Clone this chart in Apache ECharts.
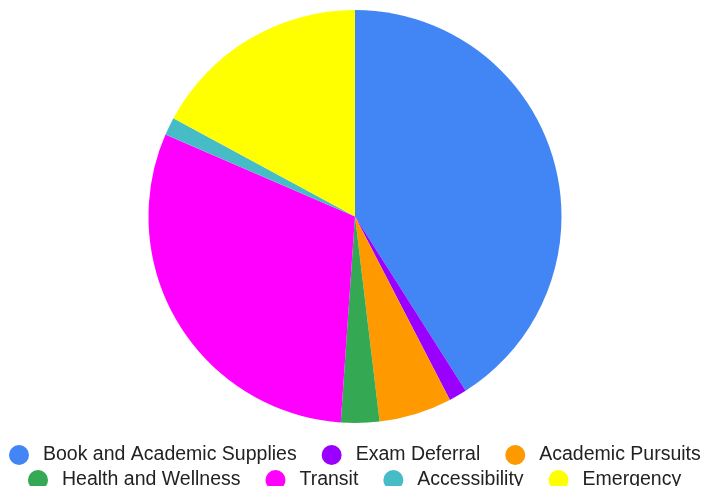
<!DOCTYPE html>
<html>
<head>
<meta charset="utf-8">
<script src="https://cdn.jsdelivr.net/npm/echarts@6/dist/echarts.min.js"></script>
<style>
  html, body { margin: 0; padding: 0; background: #fff; }
  #chart { width: 702px; height: 486px; }
</style>
</head>
<body>
<div id="chart"></div>
<script>
// Slice data (share of total)
const categories = [
  'Book and Academic Supplies',
  'Exam Deferral',
  'Academic Pursuits',
  'Health and Wellness',
  'Transit',
  'Accessibility',
  'Emergency'
];
const values = [41.0, 1.4, 5.7, 3.0, 30.4, 1.4, 17.1];
const colors = ['#4285f4', '#9900ff', '#ff9900', '#34a853', '#ff00ff', '#46bdc6', '#ffff00'];

// legend rows as in the original
const legendRow1 = categories.slice(0, 3);
const legendRow2 = categories.slice(3);

const chart = echarts.init(document.getElementById('chart'));

const legendBase = {
  orient: 'horizontal',
  icon: 'circle',
  itemWidth: 38,
  itemHeight: 20,
  itemGap: 25,
  width: 760,   // keep each row on one line
  selectedMode: false,
  textStyle: {
    color: '#222',
    fontSize: 19.5,
    fontFamily: 'Liberation Sans, Arial, sans-serif'
  }
};

chart.setOption({
  animation: false,
  color: colors,
  legend: [
    // rows are centred on the pie (x = 355), not on the canvas
    { ...legendBase, left: 4, top: 440, data: legendRow1 },
    { ...legendBase, left: 23, top: 465, data: legendRow2 }
  ],
  series: [
    {
      type: 'pie',
      center: [355, 216.5],
      radius: 206.5,
      startAngle: 90,
      clockwise: true,
      label: { show: false },
      labelLine: { show: false },
      itemStyle: { borderWidth: 0 },
      emphasis: { disabled: true },
      data: categories.map((name, i) => ({ name, value: values[i] }))
    }
  ]
});
</script>
</body>
</html>
